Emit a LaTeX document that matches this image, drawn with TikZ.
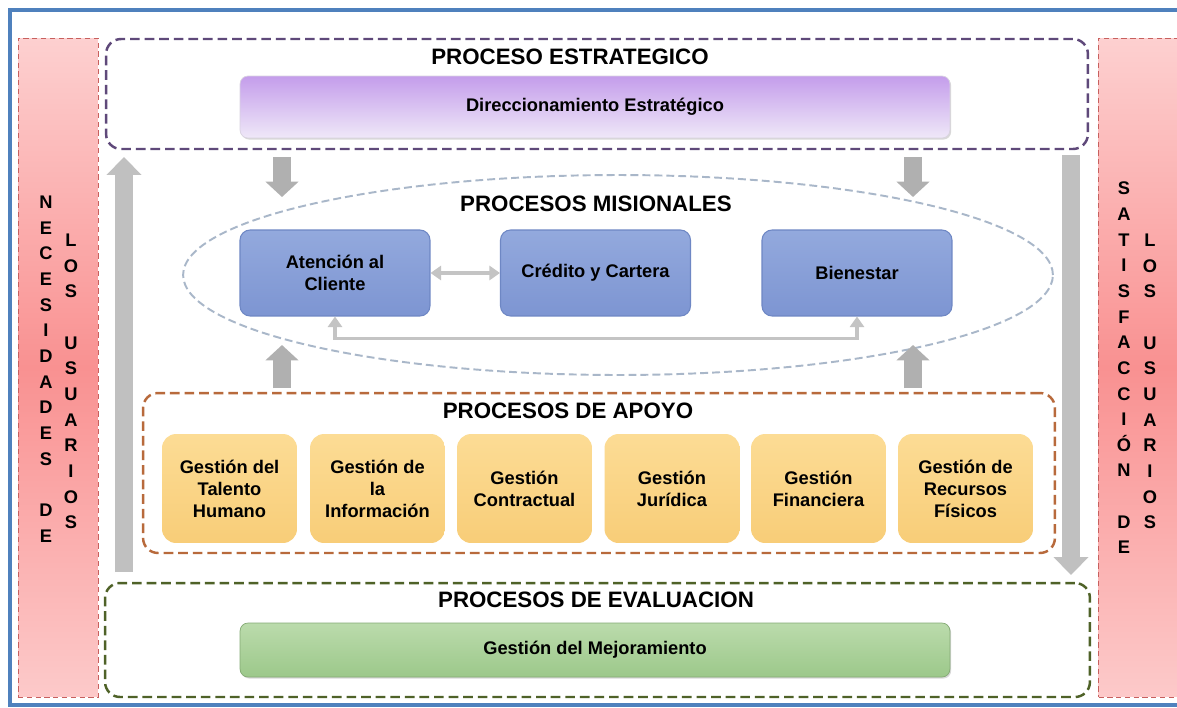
\documentclass[tikz,border=0pt]{standalone}
\usepackage{fontspec}
\setmainfont{Liberation Sans}
\usetikzlibrary{shapes.geometric,arrows.meta,shadows}

\definecolor{marco}{HTML}{4F81BD}
\definecolor{rosaclaro}{HTML}{FDD0D0}
\definecolor{rosafuerte}{HTML}{F99191}
\definecolor{rosaborde}{HTML}{C8605E}
\definecolor{moradoborde}{HTML}{5F497A}
\definecolor{moradoarriba}{HTML}{C49DEB}
\definecolor{moradoabajo}{HTML}{EFE8F8}
\definecolor{elipseborde}{HTML}{A9B7C9}
\definecolor{azularriba}{HTML}{93A9DD}
\definecolor{azulabajo}{HTML}{7D95D2}
\definecolor{azulborde}{HTML}{6E87C4}
\definecolor{naranjaborde}{HTML}{B86A3C}
\definecolor{amarilloarriba}{HTML}{FCDC95}
\definecolor{amarilloabajo}{HTML}{F8CD78}
\definecolor{verdeborde}{HTML}{4F6228}
\definecolor{verdearriba}{HTML}{BBDBAC}
\definecolor{verdeabajo}{HTML}{9CC88A}
\definecolor{grisflecha}{HTML}{B0B0B0}
\definecolor{grisenlace}{HTML}{C4C4C4}

\tikzset{
  titulo/.style={inner sep=0pt,font=\bfseries\fontsize{12.7}{15}\selectfont},
  letras/.style={align=center,inner sep=0pt,font=\bfseries\fontsize{10.4}{14.6}\selectfont},
  panel/.style={rectangle,draw=rosaborde,densely dashed,line width=0.4pt,top color=rosaclaro,bottom color=rosaclaro!90!rosafuerte,middle color=rosafuerte,minimum width=1.6cm,minimum height=13.18cm},
  grupo/.style={rectangle,rounded corners=8.5pt,line width=1.4pt,dash pattern=on 5.5pt off 2.8pt,fill=white},
  caja/.style={rectangle,align=center,inner sep=0pt,font=\bfseries\fontsize{10.4}{12.5}\selectfont},
  ancha/.style={caja,rounded corners=4.5pt,minimum width=14.2cm,drop shadow={opacity=0.3,shadow xshift=0.7pt,shadow yshift=-0.9pt}},
  azul/.style={caja,rounded corners=5.7pt,top color=azularriba,bottom color=azulabajo,draw=azulborde,line width=0.6pt,minimum width=3.8cm,minimum height=1.72cm},
  amarillo/.style={caja,rounded corners=8pt,top color=amarilloarriba,bottom color=amarilloabajo,minimum width=2.7cm,minimum height=2.18cm},
  flechagris/.style={draw=grisflecha,line width=10.2pt,-{Triangle[width=18.5pt,length=8.8pt]}},
  flechalarga/.style={draw=grisflecha!80!white,line width=10.2pt,-{Triangle[width=19.3pt,length=10.2pt]}},
  enlace/.style={draw=grisenlace,line width=2.2pt,{Triangle[width=8pt,length=6pt]}-{Triangle[width=8pt,length=6pt]}}
}

\begin{document}
\begin{tikzpicture}[x=0.02cm,y=-0.02cm]
  \useasboundingbox (0,0) rectangle (1177,707);
  \fill[white] (0,0) rectangle (1177,707);
  \draw[marco,line width=2.3pt] (10,10) rectangle (1190,705);

  \node[panel] (necesidades) at (58,367.5) {};
  \node[panel] (satisfaccion) at (1138.5,367.5) {};
  \node[letras] (necA) at (46,369) {N\\E\\C\\E\\S\\I\\D\\A\\D\\E\\S\\[14.6pt]D\\E};
  \node[letras] (necB) at (71,381.5) {L\\O\\S\\[14.6pt]U\\S\\U\\A\\R\\I\\O\\S};
  \node[letras] (satA) at (1124,368) {S\\A\\T\\I\\S\\F\\A\\C\\C\\I\\Ó\\N\\[14.6pt]D\\E};
  \node[letras] (satB) at (1150,381.5) {L\\O\\S\\[14.6pt]U\\S\\U\\A\\R\\I\\O\\S};

  \node[grupo,draw=moradoborde,minimum width=19.64cm,minimum height=2.2cm] (estrategico) at (597,94) {};
  \node[titulo] (tituloEst) at (570,57) {PROCESO ESTRATEGICO};
  \node[ancha,top color=moradoarriba,bottom color=moradoabajo,draw=moradoabajo!80!gray,minimum height=1.24cm] (direccionamiento) at (595,107) {Direccionamiento Estratégico};

  \node[ellipse,draw=elipseborde,line width=1.1pt,dash pattern=on 4.5pt off 2.3pt,minimum width=17.4cm,minimum height=4cm] (misionales) at (618,275) {};
  \node[titulo] (tituloMis) at (596,204) {PROCESOS MISIONALES};
  \node[azul] (atencion) at (335,273) {Atención al\\Cliente};
  \node[azul] (credito) at (595.5,273) {Crédito y Cartera};
  \node[azul] (bienestar) at (857,273) {Bienestar};
  \draw[enlace] (atencion) -- (credito);
  \draw[enlace] (atencion.south) -- ++(0,22) -| (bienestar.south);

  \node[grupo,draw=naranjaborde,minimum width=18.24cm,minimum height=3.2cm] (apoyo) at (599,473) {};
  \node[titulo] (tituloApo) at (568,411) {PROCESOS DE APOYO};
  \node[amarillo] (talento) at (229.5,488.5) {Gestión del\\Talento\\Humano};
  \node[amarillo] (informacion) at (377.5,488.5) {Gestión de\\la\\Información};
  \node[amarillo] (contractual) at (524.5,488.5) {Gestión\\Contractual};
  \node[amarillo] (juridica) at (672,488.5) {Gestión\\Jurídica};
  \node[amarillo] (financiera) at (818.5,488.5) {Gestión\\Financiera};
  \node[amarillo] (recursos) at (965.5,488.5) {Gestión de\\Recursos\\Físicos};

  \node[grupo,draw=verdeborde,minimum width=19.7cm,minimum height=2.28cm] (evaluacion) at (597.5,640) {};
  \node[titulo] (tituloEva) at (596,600) {PROCESOS DE EVALUACION};
  \node[ancha,top color=verdearriba,bottom color=verdeabajo,draw=verdeabajo!85!black,minimum height=1.08cm] (mejoramiento) at (595,650) {Gestión del Mejoramiento};

  \coordinate (bajaIzqA) at (282,157);
  \coordinate (bajaIzqB) at (282,197);
  \coordinate (bajaDerA) at (913,157);
  \coordinate (bajaDerB) at (913,197);
  \coordinate (subeIzqA) at (282,388);
  \coordinate (subeIzqB) at (282,345);
  \coordinate (subeDerA) at (913,388);
  \coordinate (subeDerB) at (913,345);
  \coordinate (largaIzqA) at (124,572);
  \coordinate (largaIzqB) at (124,157);
  \coordinate (largaDerA) at (1071,155);
  \coordinate (largaDerB) at (1071,575);
  \draw[flechagris] (bajaIzqA) -- (bajaIzqB);
  \draw[flechagris] (bajaDerA) -- (bajaDerB);
  \draw[flechagris] (subeIzqA) -- (subeIzqB);
  \draw[flechagris] (subeDerA) -- (subeDerB);
  \draw[flechalarga] (largaIzqA) -- (largaIzqB);
  \draw[flechalarga] (largaDerA) -- (largaDerB);
\end{tikzpicture}
\end{document}
